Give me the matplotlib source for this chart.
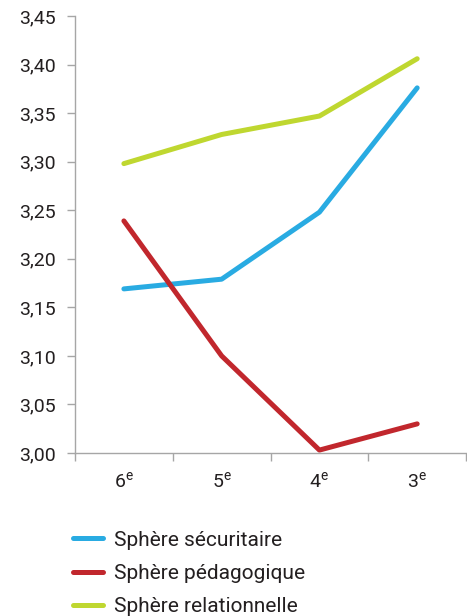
import matplotlib.pyplot as plt
import numpy as np

plt.rcParams['font.family'] = ['Roboto', 'DejaVu Sans']
plt.rcParams['mathtext.fontset'] = 'custom'
plt.rcParams['mathtext.rm'] = 'Roboto'

niveaux = ['6$^{\\mathrm{e}}$', '5$^{\\mathrm{e}}$', '4$^{\\mathrm{e}}$', '3$^{\\mathrm{e}}$']
securitaire = [3.169, 3.179, 3.248, 3.376]
pedagogique = [3.239, 3.100, 3.003, 3.030]
relationnelle = [3.298, 3.328, 3.347, 3.406]

series = [
    ('Sphère sécuritaire', securitaire, '#29ABE2'),
    ('Sphère pédagogique', pedagogique, '#C1272D'),
    ('Sphère relationnelle', relationnelle, '#BFD730'),
]

fig = plt.figure(figsize=(4.67, 6.16), dpi=100)
ax = fig.add_axes([0.1606, 0.2646, 0.8374, 0.7094])

x = np.arange(len(niveaux)) + 0.5
for label, vals, col in series:
    ax.plot(x, vals, color=col, lw=3.6, label=label, solid_capstyle='round')

ax.set_xlim(0, 4)
ax.set_ylim(3.0, 3.45)
ax.set_yticks(np.arange(3.0, 3.451, 0.05))
ax.set_yticklabels([f'{v:.2f}'.replace('.', ',') for v in np.arange(3.0, 3.451, 0.05)])
ax.set_xticks([0, 1, 2, 3, 4])
ax.set_xticklabels([])
ax.set_xticks(x, minor=True)
ax.set_xticklabels(niveaux, minor=True)

for s in ['top', 'right']:
    ax.spines[s].set_visible(False)
for s in ['left', 'bottom']:
    ax.spines[s].set_color('#a6a6a6')
    ax.spines[s].set_linewidth(1.0)

ax.tick_params(axis='y', which='major', length=6, width=1, color='#a6a6a6',
               labelsize=14, pad=8, labelcolor='#231f20')
ax.tick_params(axis='x', which='major', length=6, width=1, color='#a6a6a6')
ax.tick_params(axis='x', which='minor', length=0, labelsize=14, pad=13,
               labelcolor='#231f20')

fig.legend(loc='upper left', bbox_to_anchor=(0.1386, 0.152), frameon=False,
           fontsize=15, handlelength=1.45, handletextpad=0.5, labelspacing=0.68,
           borderaxespad=0, labelcolor='#231f20')

fig.savefig('out.png', dpi=100)
